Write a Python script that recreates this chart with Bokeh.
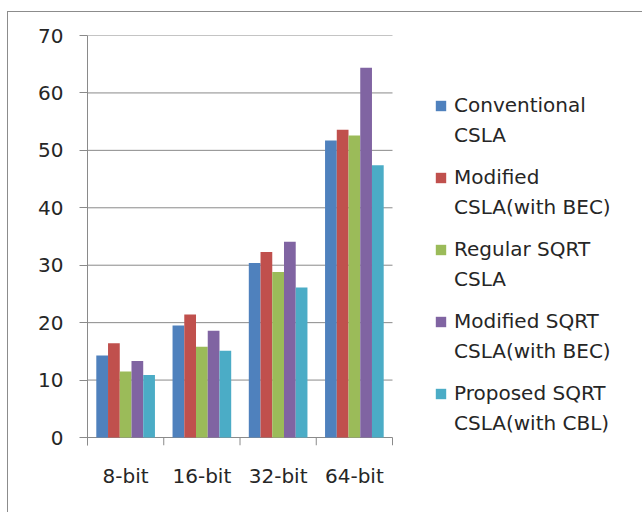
from bokeh.plotting import figure
from bokeh.models import (Range1d, LinearAxis, FixedTicker, Legend, LegendItem)
from bokeh.transform import dodge
from bokeh.embed import file_html
from bokeh.resources import INLINE

categories = ["8-bit", "16-bit", "32-bit", "64-bit"]
label_line1 = ["Conventional", "Modified", "Regular SQRT", "Modified SQRT", "Proposed SQRT"]
label_line2 = ["CSLA", "CSLA(with BEC)", "CSLA", "CSLA(with BEC)", "CSLA(with CBL)"]
conventional = [14.3, 19.5, 30.4, 51.7]
modified = [16.4, 21.4, 32.3, 53.6]
regular_sqrt = [11.5, 15.8, 28.8, 52.6]
modified_sqrt = [13.3, 18.6, 34.1, 64.4]
proposed_sqrt = [10.9, 15.1, 26.1, 47.4]
y_ticks = [0, 10, 20, 30, 40, 50, 60, 70]
colors = ["#4F81BD", "#C0504D", "#9BBB59", "#8064A2", "#4BACC6"]

series = [conventional, modified, regular_sqrt, modified_sqrt, proposed_sqrt]
keys = ["s0", "s1", "s2", "s3", "s4"]
n = len(categories)
centers = [i + 0.5 for i in range(n)]
edges = list(range(n + 1))
data = {"pos": centers}
for k, s in zip(keys, series):
    data[k] = s

GRAY = "#8a8a8a"
TEXT = "#262626"
FONT = "DejaVu Sans"

FIG_W, FIG_H = 635, 501
BORDER_L = 79
PLOT_PX = 305          # pixel width of the category area
FRAME_PX = FIG_W - BORDER_L
Y_MAX = 70
TICK_PX = 8
VALUE_PX = 402          # pixel height of 0..70
y_start = -TICK_PX * Y_MAX / VALUE_PX
x_end = n * FRAME_PX / PLOT_PX

p = figure(x_range=Range1d(0, x_end), y_range=Range1d(y_start, Y_MAX),
           width=FIG_W, height=FIG_H, output_backend="svg", toolbar_location=None,
           x_axis_location=None,
           min_border_left=BORDER_L, min_border_right=0,
           min_border_top=23, min_border_bottom=68)
p.styles = {"margin-left": "7px", "margin-top": "11px",
            "border-left": "1px solid #8c8c8c", "border-top": "1px solid #8c8c8c"}
p.outline_line_color = None
p.background_fill_color = "white"
p.border_fill_color = "white"
p.xgrid.grid_line_color = None
p.ygrid.grid_line_color = None

# horizontal gridlines across the category area only
p.segment(x0=[0] * len(y_ticks), y0=y_ticks, x1=[n] * len(y_ticks), y1=y_ticks,
          line_color=GRAY, line_width=1)
# category-edge tick marks below the baseline
p.segment(x0=edges, y0=[0] * len(edges), x1=edges, y1=[y_start] * len(edges),
          line_color=GRAY, line_width=1)

bw = 1.0 / 6.5
renderers = []
for i, (k, c) in enumerate(zip(keys, colors)):
    r = p.vbar(x=dodge("pos", (i - 2) * bw), top=k, bottom=0, width=bw,
               source=data, fill_color=c, line_color=None)
    renderers.append(r)

# y axis
yax = p.yaxis[0]
yax.ticker = FixedTicker(ticks=y_ticks)
yax.major_tick_out = 8
yax.major_tick_in = 0
yax.minor_tick_line_color = None
yax.axis_line_color = GRAY
yax.major_tick_line_color = GRAY
yax.major_label_text_font = FONT
yax.major_label_text_font_size = "20px"
yax.major_label_text_color = TEXT
yax.major_label_standoff = 16

label_axis = LinearAxis(ticker=FixedTicker(ticks=centers),
                        major_label_overrides={c: name for c, name in zip(centers, categories)},
                        axis_line_color=None, major_tick_line_color=None,
                        minor_tick_line_color=None,
                        major_tick_out=0, major_tick_in=0,
                        major_label_standoff=18,
                        major_label_text_font=FONT,
                        major_label_text_font_size="20px",
                        major_label_text_color=TEXT)
p.add_layout(label_axis, "below")

common = dict(padding=0, margin=0, spacing=48, border_line_color=None,
              background_fill_alpha=0, label_text_font=FONT,
              label_text_font_size="20px", label_text_color=TEXT,
              glyph_height=13)
legend1 = Legend(items=[LegendItem(label=l, renderers=[r])
                        for l, r in zip(label_line1, renderers)],
                 location=(347, 40), glyph_width=13, label_standoff=7, **common)
legend2 = Legend(items=[LegendItem(label=l, renderers=[r])
                        for l, r in zip(label_line2, renderers)],
                 location=(347, 10), glyph_width=0, label_standoff=20, **common)
p.add_layout(legend1)
p.add_layout(legend2)

open("out.html", "w").write(file_html(p, INLINE))
